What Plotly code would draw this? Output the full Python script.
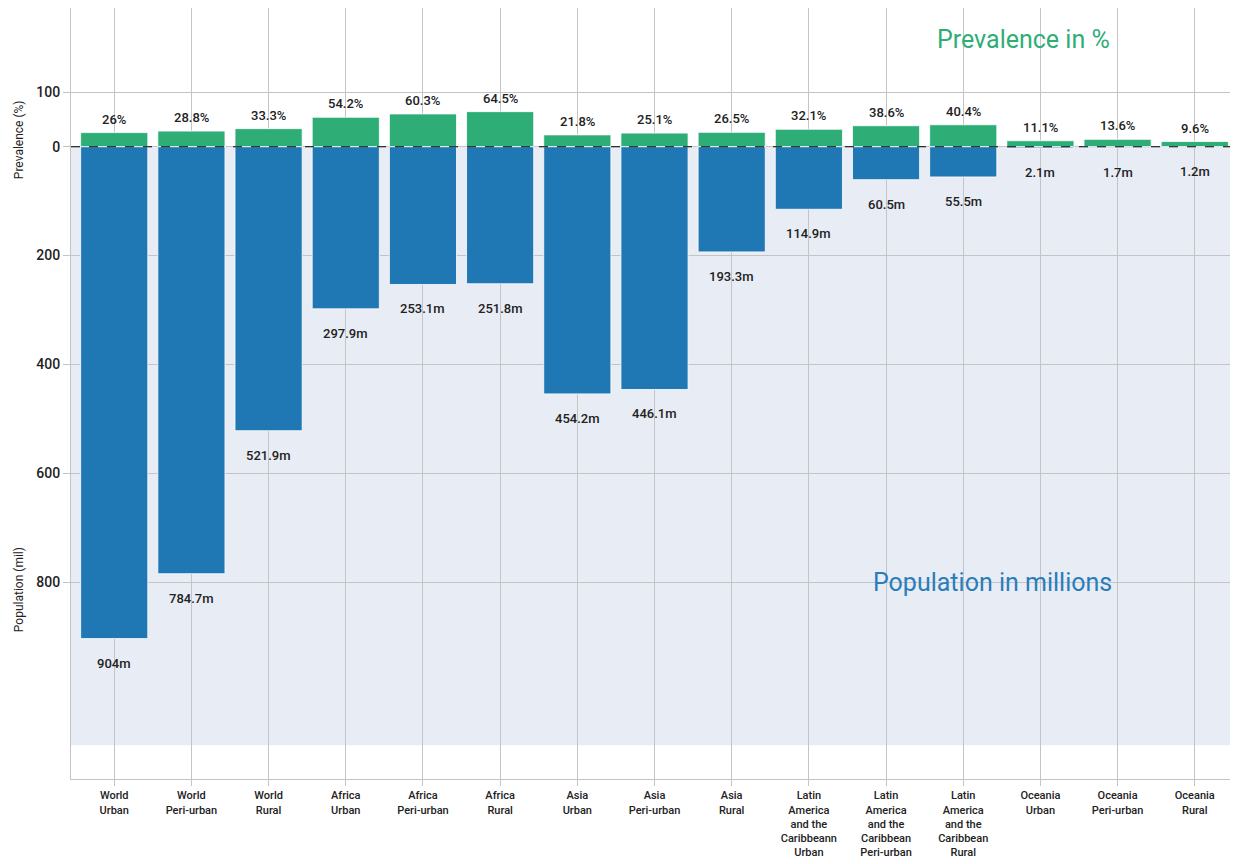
import plotly.graph_objects as go

categories = [
    "World<br>Urban", "World<br>Peri-urban", "World<br>Rural",
    "Africa<br>Urban", "Africa<br>Peri-urban", "Africa<br>Rural",
    "Asia<br>Urban", "Asia<br>Peri-urban", "Asia<br>Rural",
    "Latin<br>America<br>and the<br>Caribbeann<br>Urban",
    "Latin<br>America<br>and the<br>Caribbean<br>Peri-urban",
    "Latin<br>America<br>and the<br>Caribbean<br>Rural",
    "Oceania<br>Urban", "Oceania<br>Peri-urban", "Oceania<br>Rural",
]
prevalence = [26, 28.8, 33.3, 54.2, 60.3, 64.5, 21.8, 25.1, 26.5, 32.1, 38.6, 40.4, 11.1, 13.6, 9.6]
population = [904, 784.7, 521.9, 297.9, 253.1, 251.8, 454.2, 446.1, 193.3, 114.9, 60.5, 55.5, 2.1, 1.7, 1.2]
prev_labels = ["26%", "28.8%", "33.3%", "54.2%", "60.3%", "64.5%", "21.8%", "25.1%", "26.5%",
               "32.1%", "38.6%", "40.4%", "11.1%", "13.6%", "9.6%"]
pop_labels = ["904m", "784.7m", "521.9m", "297.9m", "253.1m", "251.8m", "454.2m", "446.1m", "193.3m",
              "114.9m", "60.5m", "55.5m", "2.1m", "1.7m", "1.2m"]
y_tickvals = [100, 0, -200, -400, -600, -800]
y_ticktext = ["100", "0", "200", "400", "600", "800"]

FONT = "Roboto, Liberation Sans Narrow, sans-serif"
GREEN = "#2fad77"
BLUE = "#1f77b4"
TXT = "#222222"

fig = go.Figure()
fig.add_trace(go.Bar(x=categories, y=prevalence, marker=dict(color=GREEN, line=dict(color="white", width=0.8)),
                     hoverinfo="skip"))
fig.add_trace(go.Bar(x=categories, y=[-p for p in population],
                     marker=dict(color=BLUE, line=dict(color="white", width=0.8)), hoverinfo="skip"))

for c, v, t in zip(categories, prevalence, prev_labels):
    fig.add_annotation(x=c, y=v, text=t, showarrow=False, yanchor="bottom", yshift=4,
                       font=dict(family=FONT, size=13, color=TXT, weight=500))
for c, v, t in zip(categories, population, pop_labels):
    fig.add_annotation(x=c, y=-v, text=t, showarrow=False, yanchor="top", yshift=-15,
                       font=dict(family=FONT, size=13, color=TXT, weight=500))

# shaded population region
fig.add_shape(type="rect", xref="paper", yref="y", x0=0, x1=1, y0=0, y1=-1100,
              fillcolor="#e8ecf5", line=dict(width=0), layer="below")
# dashed zero line
fig.add_shape(type="line", xref="paper", yref="y", x0=0, x1=1, y0=0, y1=0,
              line=dict(color="black", width=1, dash="dash"), layer="above")

fig.add_annotation(xref="paper", yref="y", x=0.816, y=197, xanchor="center", text="Prevalence in %",
                   showarrow=False, font=dict(family=FONT, size=25, color=GREEN))
fig.add_annotation(xref="paper", yref="y", x=0.79, y=-800, xanchor="center", text="Population in millions",
                   showarrow=False, font=dict(family=FONT, size=25, color="#2a7db9"))
fig.add_annotation(xref="paper", yref="y", x=-0.045, y=13, text="Prevalence (%)", showarrow=False,
                   textangle=-90, xanchor="center", font=dict(family=FONT, size=12, color=TXT))
fig.add_annotation(xref="paper", yref="y", x=-0.045, y=-814, text="Population (mil)", showarrow=False,
                   textangle=-90, xanchor="center", font=dict(family=FONT, size=12, color=TXT))

# page body has an 8px default margin: size the figure to fit the 1238x864 window
fig.update_layout(
    width=1230, height=856,
    margin=dict(l=63, r=0, t=0, b=85, autoexpand=False),
    paper_bgcolor="white", plot_bgcolor="white",
    barmode="relative", bargap=0.13, showlegend=False,
    font=dict(family=FONT, size=13, color=TXT),
)
fig.update_xaxes(type="category", range=[-0.56, 14.56], showgrid=True, gridcolor="#c4c4c4", gridwidth=1,
                 ticks="outside", ticklen=6, tickcolor="#c4c4c4", showline=True, linecolor="#c4c4c4",
                 mirror=True, automargin=False, tickangle=0,
                 tickfont=dict(family=FONT, size=11, color=TXT, weight=500))
fig.update_yaxes(range=[-1162, 255], tickvals=y_tickvals, ticktext=y_ticktext, showgrid=True,
                 gridcolor="#c4c4c4", gridwidth=1, zeroline=False, ticks="outside", ticklen=7,
                 tickcolor="#c4c4c4", showline=True, linecolor="#c4c4c4", mirror=True, automargin=False,
                 tickfont=dict(family=FONT, size=14, color=TXT, weight=500))

fig.write_html("out.html")
